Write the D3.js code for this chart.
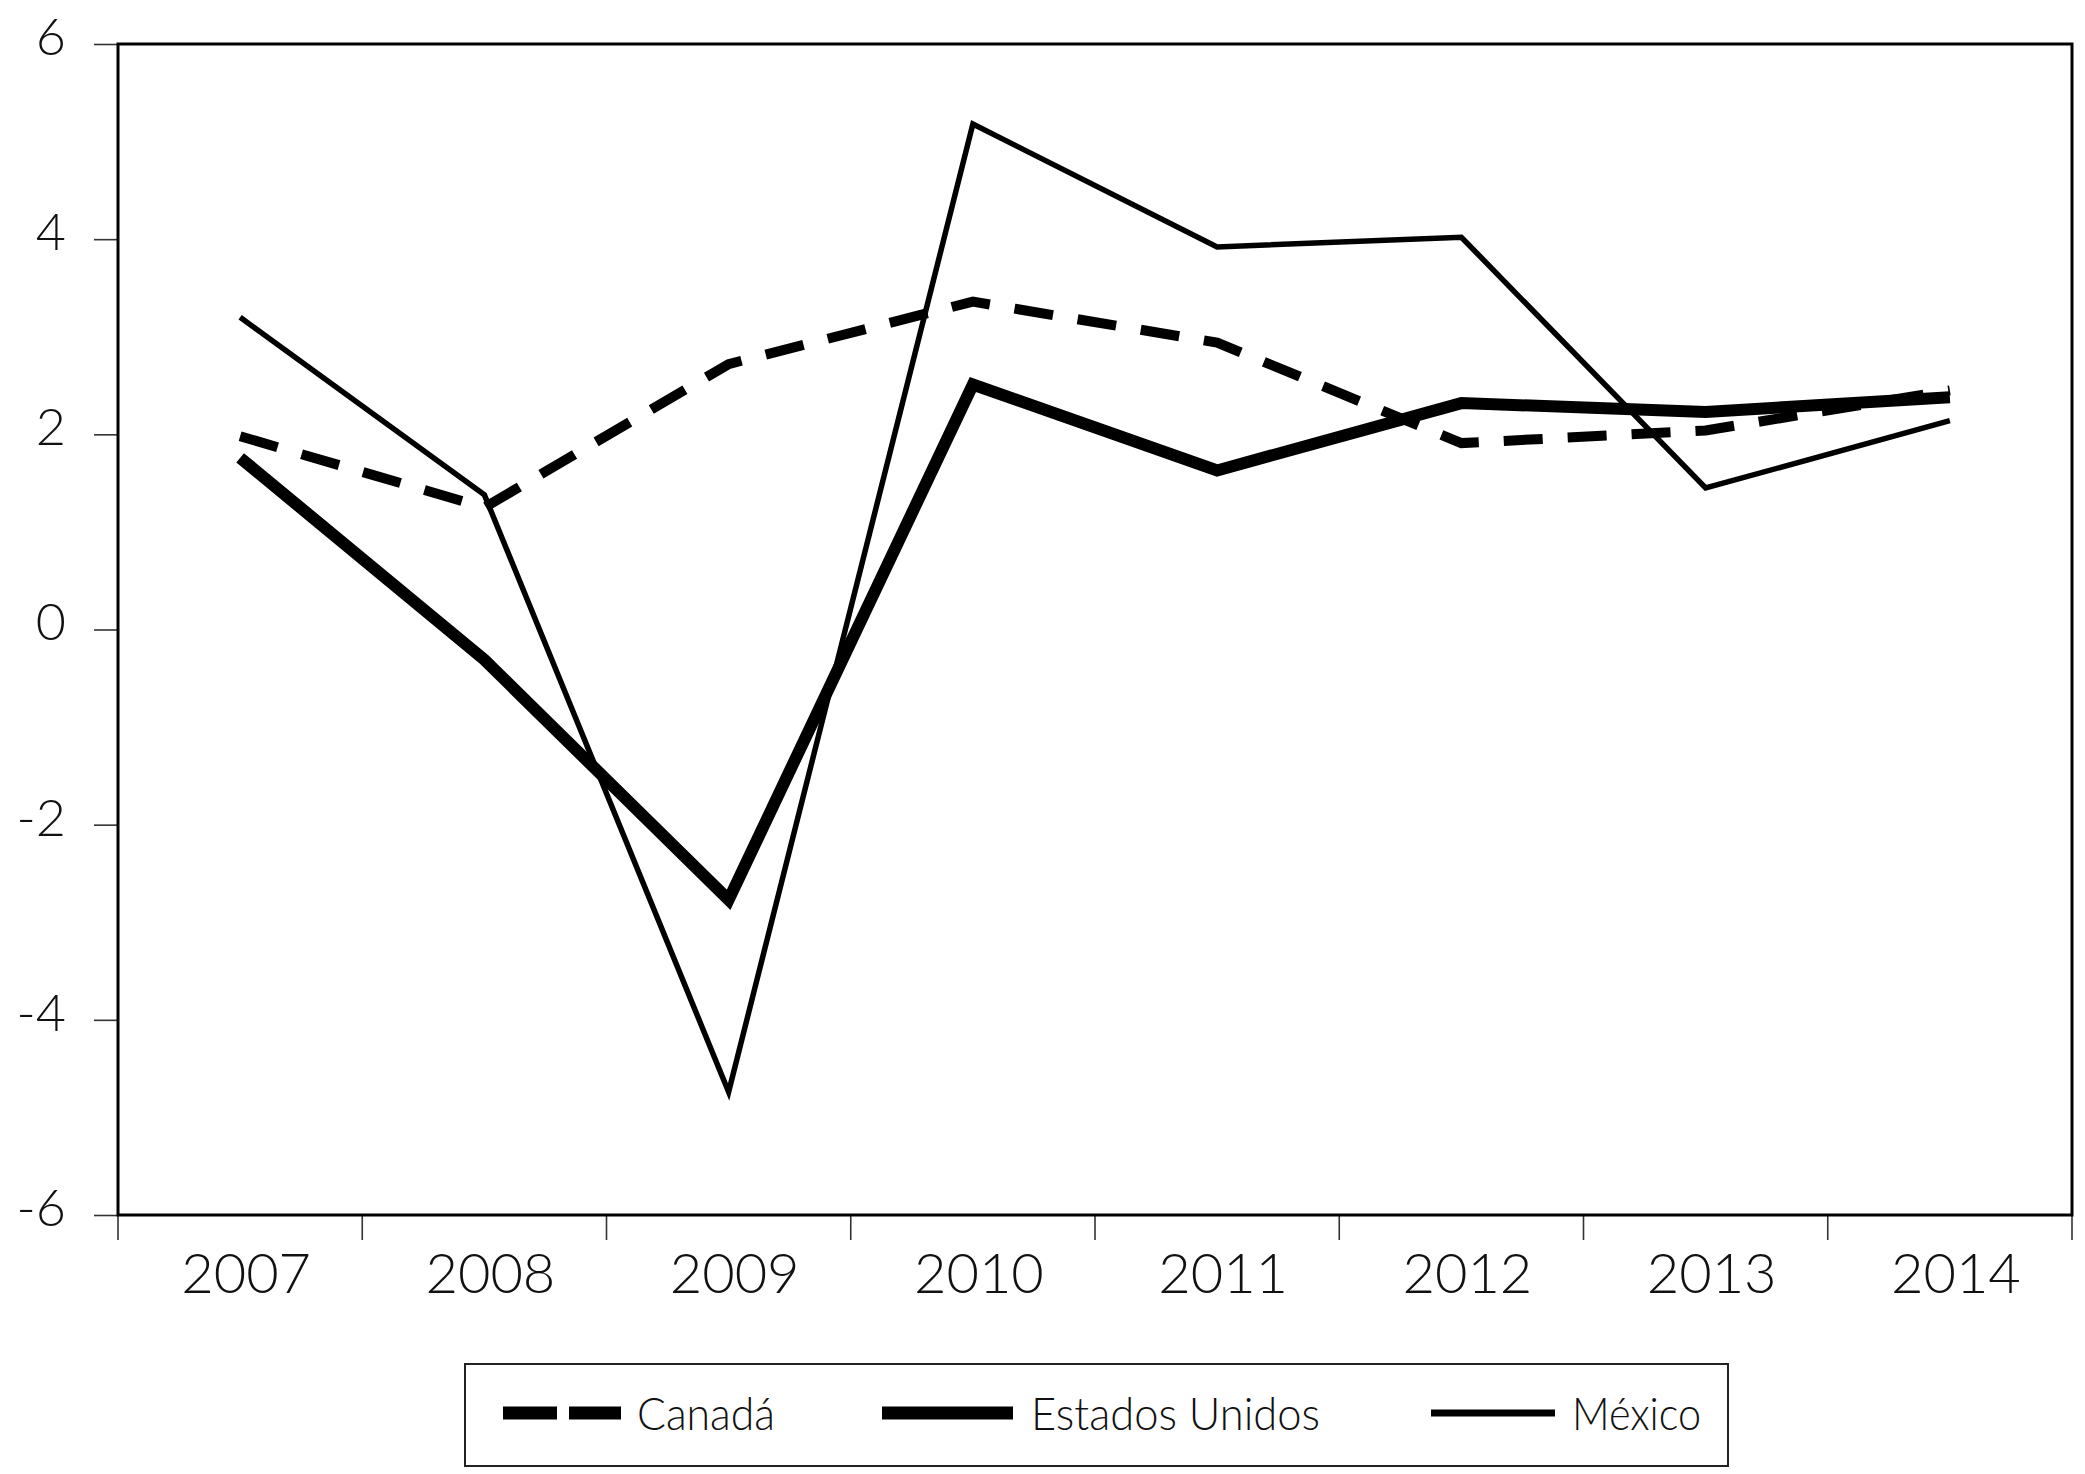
<!DOCTYPE html>
<html><head><meta charset="utf-8">
<script src="https://cdn.jsdelivr.net/npm/d3@7"></script>
<style>
html,body{margin:0;padding:0;background:#fff;}
svg text{font-family:Lato,"Open Sans","Noto Sans",sans-serif;font-weight:300;fill:#111;}
</style></head>
<body>
<svg id="chart" width="2085" height="1474"></svg>
<script>
const years = ["2007","2008","2009","2010","2011","2012","2013","2014"];
const canada = [1.98, 1.25, 2.72, 3.36, 2.94, 1.91, 2.04, 2.45];
const estadosUnidos = [1.76, -0.31, -2.77, 2.51, 1.63, 2.32, 2.23, 2.38];
const mexico = [3.20, 1.38, -4.74, 5.18, 3.92, 4.02, 1.45, 2.14];
const yTicks = [-6, -4, -2, 0, 2, 4, 6];
const seriesNames = ["Canadá", "Estados Unidos", "México"];

const svg = d3.select("#chart");
const L = 118, R = 2072, T = 44, B = 1215;

const x = d3.scaleBand().domain(years).range([L, R]);
const y = d3.scaleLinear().domain([-6, 6]).range([B, T]);

// Y axis ticks and labels
const yAxis = d3.axisLeft(y).tickValues(yTicks).tickSize(24).tickPadding(28).tickFormat(d => String(d));
const gy = svg.append("g").attr("transform", `translate(${L},0)`).call(yAxis);
gy.select(".domain").remove();
gy.selectAll(".tick line").attr("stroke", "#333").attr("stroke-width", 1.6);
gy.selectAll(".tick text").attr("font-size", 52).attr("dy", "0.2em").attr("fill", "#111")
  .style("font-family", "Lato,'Open Sans',sans-serif").style("font-weight", 300);

// X axis: ticks at category boundaries
const boundaries = years.map(d => x(d)).concat([R]);
svg.append("g").selectAll("line").data(boundaries).join("line")
  .attr("x1", d => d).attr("x2", d => d).attr("y1", B).attr("y2", B + 25)
  .attr("stroke", "#333").attr("stroke-width", 1.6);
const xAxis = d3.axisBottom(x).tickSize(0).tickPadding(0);
const gx = svg.append("g").attr("transform", `translate(0,${B})`).call(xAxis);
gx.select(".domain").remove();
gx.selectAll(".tick text").attr("font-size", 56).attr("y", 78).attr("dy", 0).attr("dx", 6).attr("fill", "#111")
  .style("font-family", "Lato,'Open Sans',sans-serif").style("font-weight", 300);

// frame
svg.append("rect").attr("x", L).attr("y", T).attr("width", R - L).attr("height", B - T)
  .attr("fill", "none").attr("stroke", "#000").attr("stroke-width", 3);

const line = d3.line().x((d, i) => x(years[i]) + x.bandwidth() / 2).y(d => y(d));

const styles = [
  {data: canada, w: 10, dash: "39,25", cap: "butt"},
  {data: estadosUnidos, w: 12, dash: null, cap: "butt"},
  {data: mexico, w: 5.5, dash: null, cap: "butt"}
];
// draw Mexico first, then US, then Canada on top
[2, 1, 0].forEach(i => {
  const s = styles[i];
  const p = svg.append("path").datum(s.data).attr("d", line)
    .attr("fill", "none").attr("stroke", "#000").attr("stroke-width", s.w)
    .attr("stroke-linejoin", "miter").attr("stroke-linecap", s.cap);
  if (s.dash) p.attr("stroke-dasharray", s.dash);
});

// Legend
const lg = svg.append("g");
lg.append("rect").attr("x", 465).attr("y", 1364).attr("width", 1263).attr("height", 102)
  .attr("fill", "#fff").attr("stroke", "#222").attr("stroke-width", 2);
const ly = 1413;
const legendItems = [
  {name: seriesNames[0], x1: 503, x2: 621, w: 13, dash: "54,12", tx: 637, tw: 138},
  {name: seriesNames[1], x1: 882, x2: 1013, w: 13, dash: null, tx: 1031, tw: 289},
  {name: seriesNames[2], x1: 1431, x2: 1555, w: 7, dash: null, tx: 1572, tw: 129}
];
legendItems.forEach(it => {
  const l = lg.append("line").attr("x1", it.x1).attr("x2", it.x2).attr("y1", ly).attr("y2", ly)
    .attr("stroke", "#000").attr("stroke-width", it.w);
  if (it.dash) l.attr("stroke-dasharray", it.dash);
  lg.append("text").attr("x", it.tx).attr("y", ly + 17).attr("font-size", 46)
    .attr("textLength", it.tw).attr("lengthAdjust", "spacingAndGlyphs").text(it.name);
});
</script>
</body></html>
